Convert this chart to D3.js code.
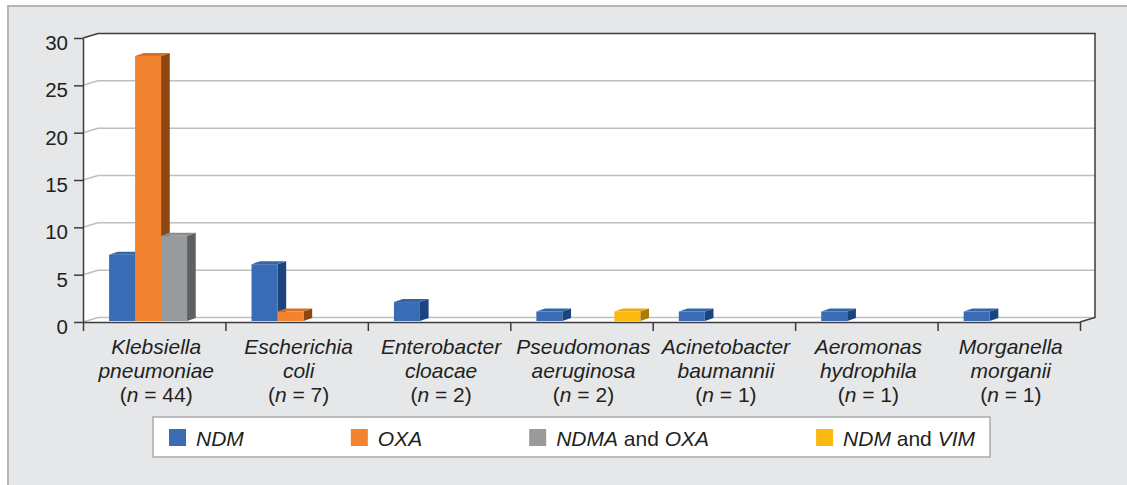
<!DOCTYPE html>
<html lang="en">
<head>
  <meta charset="UTF-8">
  <title>Carbapenemase genes by organism</title>
  <script src="https://d3js.org/d3.v7.min.js"></script>
  <style>
    body {
      margin: 0;
      background: #fff;
      font-family: "Liberation Sans", Arial, sans-serif;
    }
    text {
      fill: #231f20;
    }
  </style>
</head>
<body>
  <div id="chart"></div>

  <script>
    // organisms (two name lines + count)
    const organisms = [
      ["Klebsiella", "pneumoniae", "44"],
      ["Escherichia", "coli", "7"],
      ["Enterobacter", "cloacae", "2"],
      ["Pseudomonas", "aeruginosa", "2"],
      ["Acinetobacter", "baumannii", "1"],
      ["Aeromonas", "hydrophila", "1"],
      ["Morganella", "morganii", "1"]
    ];
    const series = ["NDM", "OXA", "NDMA and OXA", "NDM and VIM"];
    const ndm     = [7, 6, 2, 1, 1, 1, 1];
    const oxa     = [28, 1, 0, 0, 0, 0, 0];
    const ndmaOxa = [9, 0, 0, 0, 0, 0, 0];
    const ndmVim  = [0, 0, 0, 1, 0, 0, 0];
    const yTicks  = [0, 5, 10, 15, 20, 25, 30];

    const colors = {
      "NDM":          {front: "#3a6cb5", top: "#3464aa", side: "#1c447f"},
      "OXA":          {front: "#f28331", top: "#d96f22", side: "#8c4711"},
      "NDMA and OXA": {front: "#989a9c", top: "#8a8c8e", side: "#5e6063"},
      "NDM and VIM":  {front: "#fdb913", top: "#e9a80f", side: "#a57b0a"}
    };

    const W = 1127, H = 485;
    const left = 83, right = 1080, bottom = 322, topY = 38;
    const dx = 15, dy = -4.5;          // depth of the floor / walls
    const bdx = 8.7, bdy = -3;         // depth of a bar
    const bsx = 3, bsy = -1;           // bar front face shift into the box

    const svg = d3.select("#chart").append("svg")
      .attr("width", W).attr("height", H);

    // outer panel
    svg.append("rect")
      .attr("x", 8).attr("y", 6)
      .attr("width", W + 20).attr("height", H + 20)
      .attr("fill", "#e6e7e9")
      .attr("stroke", "#b3b4b6").attr("stroke-width", 2);

    const x0 = d3.scaleBand()
      .domain(organisms.map((d, i) => i))
      .range([left, right])
      .padding(0);

    const x1 = d3.scaleBand()
      .domain(series)
      .range([0, x0.bandwidth()])
      .paddingInner(0).paddingOuter(0.74).align(0.6);

    const y = d3.scaleLinear().domain([0, 30]).range([bottom, topY]);

    // white walls (side + back)
    const wall = [
      [left, y(30)], [left + dx, y(30) + dy], [right + dx, y(30) + dy],
      [right + dx, y(0) + dy], [right, y(0)], [left, y(0)]
    ];
    svg.append("polygon")
      .attr("points", wall.map(p => p.join(",")).join(" "))
      .attr("fill", "#fff");

    // gridlines on the back wall with stubs on the side wall
    const grid = svg.append("g")
      .attr("stroke", "#bdbec0").attr("stroke-width", 1.5).attr("fill", "none");
    yTicks.filter(v => v < 30).forEach(v => {
      grid.append("polyline")
        .attr("points", `${left},${y(v)} ${left + dx},${y(v) + dy} ${right + dx},${y(v) + dy}`);
    });

    // dark frame edges
    svg.append("polyline")
      .attr("points", `${left},${y(30)} ${left + dx},${y(30) + dy} ${right + dx},${y(30) + dy} ${right + dx},${y(0) + dy} ${right},${y(0)}`)
      .attr("fill", "none").attr("stroke", "#3c3c3c").attr("stroke-width", 1.5);

    // bars
    const values = {"NDM": ndm, "OXA": oxa, "NDMA and OXA": ndmaOxa, "NDM and VIM": ndmVim};
    const bars = [];
    organisms.forEach((o, i) => {
      series.forEach(s => {
        if (values[s][i] > 0) bars.push({i, s, v: values[s][i]});
      });
    });
    const bw = x1.bandwidth();
    const pts = a => a.map(p => p.join(",")).join(" ");
    const barG = svg.selectAll(".bar").data(bars).enter().append("g").attr("class", "bar");
    barG.each(function(d) {
      const g = d3.select(this);
      const xa = x0(d.i) + x1(d.s) + bsx;
      const yt = y(d.v) + bsy, yb = y(0) + bsy;
      const c = colors[d.s];
      g.append("polygon")
        .attr("points", pts([[xa + bw, yt], [xa + bw + bdx, yt + bdy], [xa + bw + bdx, yb + bdy], [xa + bw, yb]]))
        .attr("fill", c.side);
      g.append("polygon")
        .attr("points", pts([[xa, yt], [xa + bw, yt], [xa + bw + bdx, yt + bdy], [xa + bdx, yt + bdy]]))
        .attr("fill", c.top);
      g.append("rect")
        .attr("x", xa).attr("y", yt)
        .attr("width", bw).attr("height", yb - yt)
        .attr("fill", c.front);
    });

    // y axis
    const yAxis = svg.append("g")
      .attr("transform", `translate(${left},0)`)
      .call(d3.axisLeft(y).tickValues(yTicks).tickSize(9).tickSizeOuter(0).tickPadding(6));
    yAxis.select(".domain").attr("stroke", "#3c3c3c").attr("stroke-width", 1.5);
    yAxis.selectAll(".tick line").attr("stroke", "#3c3c3c").attr("stroke-width", 1.5);
    yAxis.selectAll(".tick text")
      .attr("dy", "0.68em").attr("y", -2.5)
      .style("font-size", "20.5px")
      .style("font-family", "'Liberation Sans', Arial, sans-serif")
      .attr("fill", "#231f20");

    // x axis (category boundaries)
    const xEdges = d3.scaleLinear().domain([0, organisms.length]).range([left, right]);
    const xAxis = svg.append("g")
      .attr("transform", `translate(0,${bottom})`)
      .call(d3.axisBottom(xEdges).ticks(organisms.length).tickFormat("").tickSize(9).tickSizeOuter(0));
    xAxis.select(".domain").attr("stroke", "#3c3c3c").attr("stroke-width", 1.5);
    xAxis.selectAll(".tick line").attr("stroke", "#3c3c3c").attr("stroke-width", 1.5);

    // category labels
    const lab = svg.selectAll(".cat").data(organisms).enter().append("text")
      .attr("class", "cat")
      .attr("text-anchor", "middle")
      .style("font-size", "21px");
    lab.each(function(d, i) {
      const t = d3.select(this);
      const cx = x0(i) + x0.bandwidth() / 2 + 2;
      t.append("tspan").attr("x", cx).attr("y", 354).style("font-style", "italic").text(d[0]);
      t.append("tspan").attr("x", cx).attr("y", 378).style("font-style", "italic").text(d[1]);
      const l3 = t.append("tspan").attr("x", cx).attr("y", 402);
      l3.append("tspan").text("(");
      l3.append("tspan").style("font-style", "italic").text("n");
      l3.append("tspan").text(` = ${d[2]})`);
    });

    // legend
    const legend = svg.append("g");
    legend.append("rect")
      .attr("x", 153).attr("y", 417).attr("width", 837).attr("height", 40)
      .attr("fill", "#fff").attr("stroke", "#a9aaac").attr("stroke-width", 1.5);
    let lx = 169;
    series.forEach(s => {
      legend.append("rect")
        .attr("x", lx).attr("y", 429).attr("width", 17).attr("height", 17)
        .attr("fill", colors[s].front);
      const t = legend.append("text")
        .attr("x", lx + 27).attr("y", 446)
        .style("font-size", "21px");
      s.split(" ").forEach((w, k) => {
        t.append("tspan")
          .style("font-style", w === "and" ? "normal" : "italic")
          .text((k > 0 ? " " : "") + w);
      });
      lx = lx + 27 + t.node().getComputedTextLength() + 107;
    });
  </script>
</body>
</html>
